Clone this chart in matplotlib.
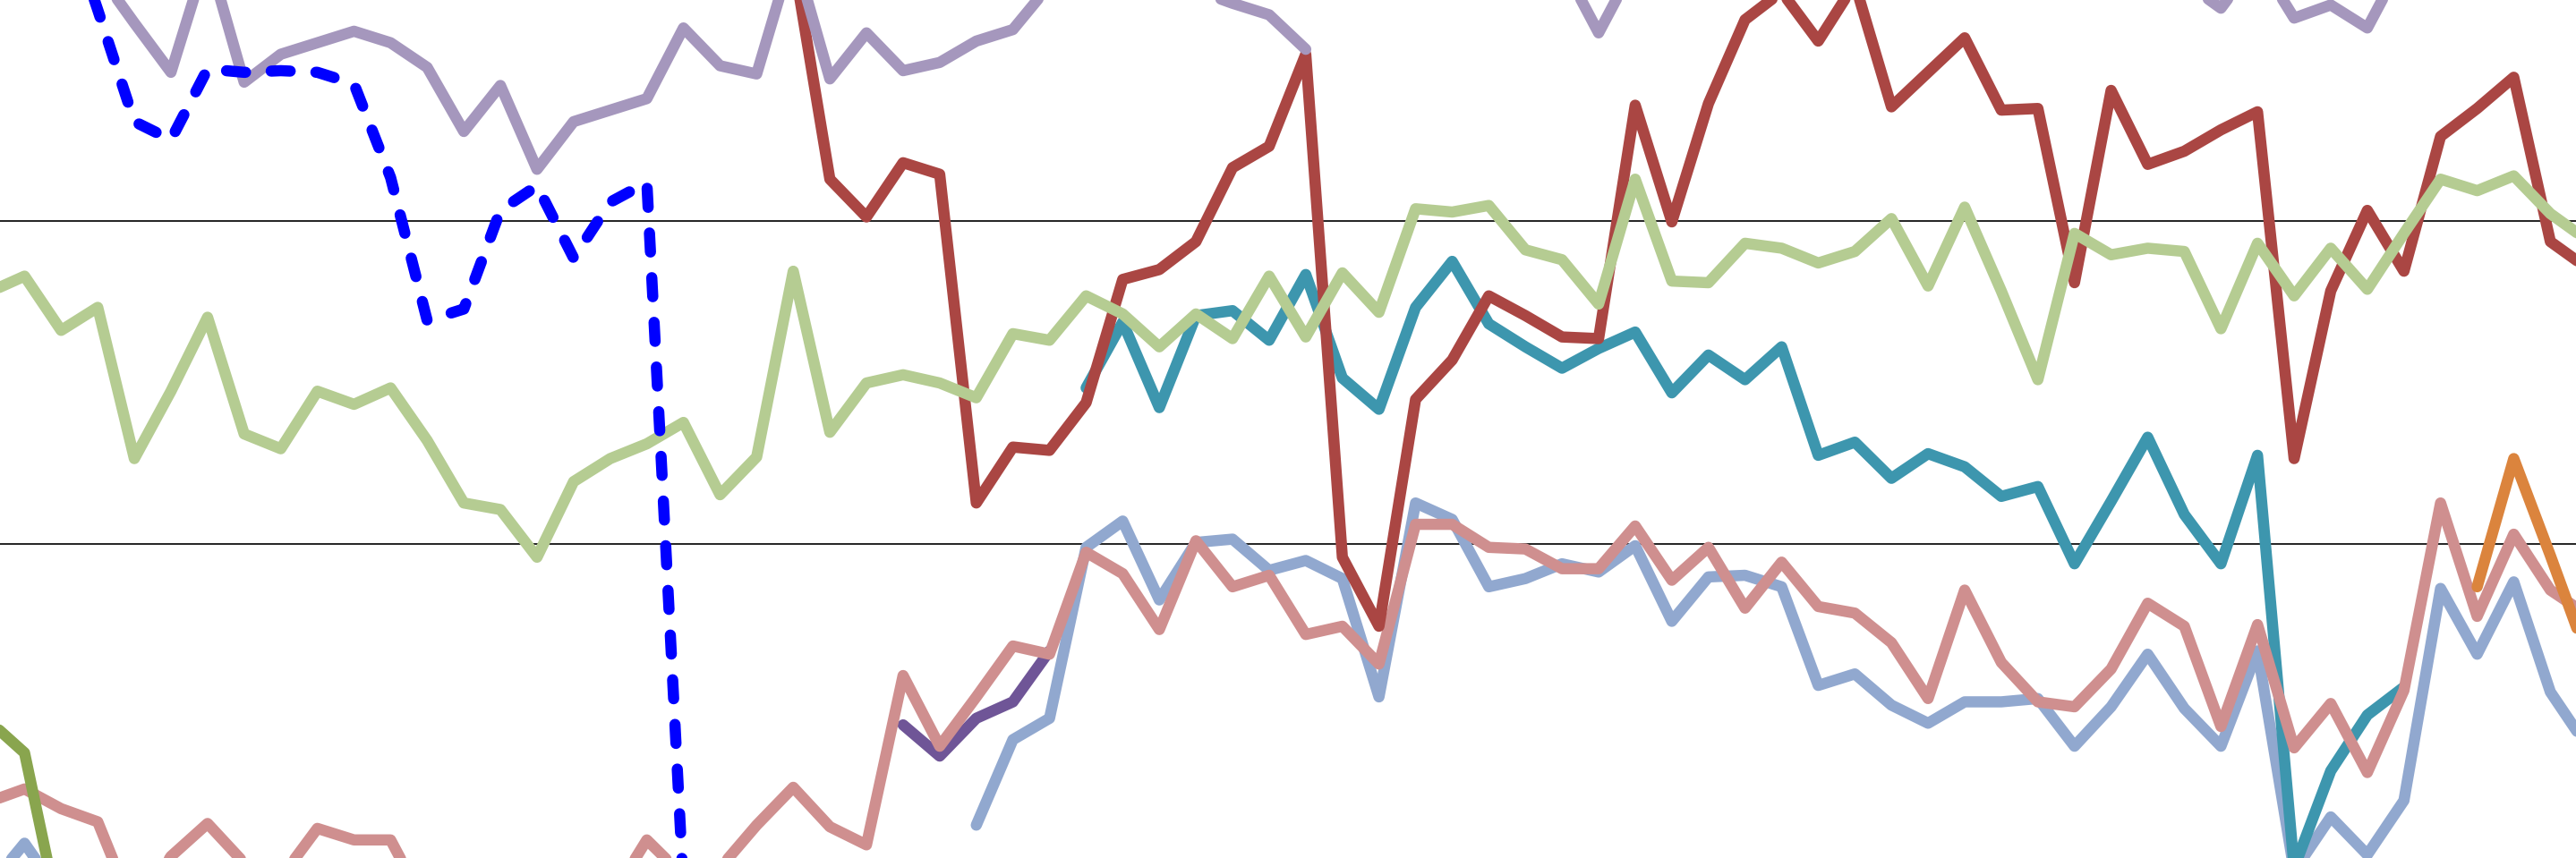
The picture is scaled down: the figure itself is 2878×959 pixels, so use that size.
import numpy as np
import matplotlib.pyplot as plt

# one point per step, 72 steps across the plot
steps = np.arange(72)

green = [344, 354, 321, 335, 243, 284, 329, 258, 249, 284,
         276, 286, 254, 216, 212, 183, 229, 243, 252, 265,
         221, 244, 357, 259, 289, 294, 289, 280, 319, 315,
         342, 331, 311, 331, 316, 354, 317, 356, 332, 395,
         393, 397, 370, 364, 337, 413, 351, 350, 374, 371,
         362, 369, 389, 348, 396, 345, 291, 380, 367, 371,
         369, 322, 374, 342, 371, 346, 380, 413, 406, 415,
         392, 376]

red_start = 22
red = [547, 413, 390, 423, 416, 216, 250, 248,
       277, 352, 358, 375, 420, 433, 489, 183, 141, 279,
       303, 342, 330, 317, 316, 458, 387, 459, 510, 527,
       497, 532, 457, 478, 499, 455, 456, 350, 467, 422,
       430, 443, 454, 243, 345, 394, 357, 439, 456, 475,
       375, 359]

purple_start = 3
purple = [539, 508, 478, 550, 472, 489, 496,
          503, 496, 481, 442, 470, 419, 448, 455, 462, 505,
          482, 477, 552, 474, 502, 479, 484, 497, 504, 531,
          555, 565, 560, 528, 520, 513, 492, None, 570, 570,
          570, 570, 570, 544, 502, 544, 570, 570, 570, 570,
          570, 570, 570, 570, 570, 570, 570, 570, 570, 570,
          533, 517, 547, 511, 519, 505, 547]

blue_start = 2
blue = [582, 516, 448, 437, 480, 478, 479, 478, 471, 414,
        327, 334, 394, 409, 365, 399, 411, -18]

teal_start = 30
teal = [286, 326, 274, 330, 333, 315, 355, 292, 273, 335,
        363, 325, 311, 298, 310, 320, 283, 306, 291, 311,
        245, 253, 231, 246, 238, 220, 226, 179, 217, 256,
        209, 179, 245, -6, 53, 87, 104]

light_blue = [-18, 9, -23] + [None] * 24 + [
    20, 72, 85,
    189, 205, 157, 192, 194, 175, 181, 170, 98, 216,
    206, 165, 170, 179, 174, 190, 144, 171, 172, 165,
    105, 112, 93, 82, 95, 95, 97, 68, 92, 124,
    91, 68, 126, -8, 25, 2, 35, 164, 124, 168,
    101, 68]

pink = [34, 42, 30, 22, -33, 1, 21, -3, -12, 18,
        11, 11, -31, -38, -38, -38, -38, -25, 11, -11,
        -6, 20, 43, 19, 8, 111, 68, 98, 129, 124,
        186, 173, 139, 193, 165, 172, 136, 141, 118, 203,
        203, 189, 188, 176, 176, 202, 169, 189, 152, 180,
        153, 149, 131, 97, 163, 119, 95, 92, 115, 155,
        141, 80, 142, 67, 94, 52, 102, 216, 147, 197,
        163, 148]

dark_purple_start = 25
dark_purple = [81, 62, 85, 95, 126]

orange_start = 68
orange = [165, 243, 184, 123]

olive = [84, 64, -41, -50, -50, -40, -1, -40]

grid_y = [190.9, 387.7]


def series(vals, start=0):
    out = np.full(len(steps), np.nan)
    arr = np.array([np.nan if v is None else v for v in vals], dtype=float)
    out[start:start + len(arr)] = arr
    return out


fig = plt.figure(figsize=(28.78, 9.59), dpi=100)
ax = fig.add_axes([0, 0, 1, 1])

lw = 9.0
style = dict(lw=lw, solid_capstyle='round', solid_joinstyle='round')

ax.plot(steps, series(light_blue), color='#91a8cf', zorder=2, **style)
ax.plot(steps, series(teal, teal_start), color='#3d96ae', zorder=3, **style)
ax.plot(steps, series(dark_purple, dark_purple_start), color='#6f5597', zorder=4, **style)
ax.plot(steps, series(pink), color='#cf8f8f', zorder=5, **style)
ax.plot(steps, series(red, red_start), color='#aa4643', zorder=6, **style)
ax.plot(steps, series(purple, purple_start), color='#a597bd', zorder=7, **style)
ax.plot(steps, series(green), color='#b5cc92', zorder=8, **style)
ax.plot(steps, series(olive), color='#89a54e', zorder=9, **style)
ax.plot(steps, series(orange, orange_start), color='#db843d', zorder=10, **style)
ax.plot(steps, series(blue, blue_start), color='#0000ff', zorder=11, lw=9.0,
        ls=(0, (1.7, 2.3)), dash_capstyle='round', dash_joinstyle='round')

for gy in grid_y:
    ax.axhline(gy, color='#111111', lw=1.3, zorder=1)

ax.set_xlim(0.33, 70.7)
ax.set_ylim(0, 522)
ax.set_xticks([])
ax.set_yticks([])
for s in ax.spines.values():
    s.set_visible(False)

fig.savefig('out.png', dpi=100)
